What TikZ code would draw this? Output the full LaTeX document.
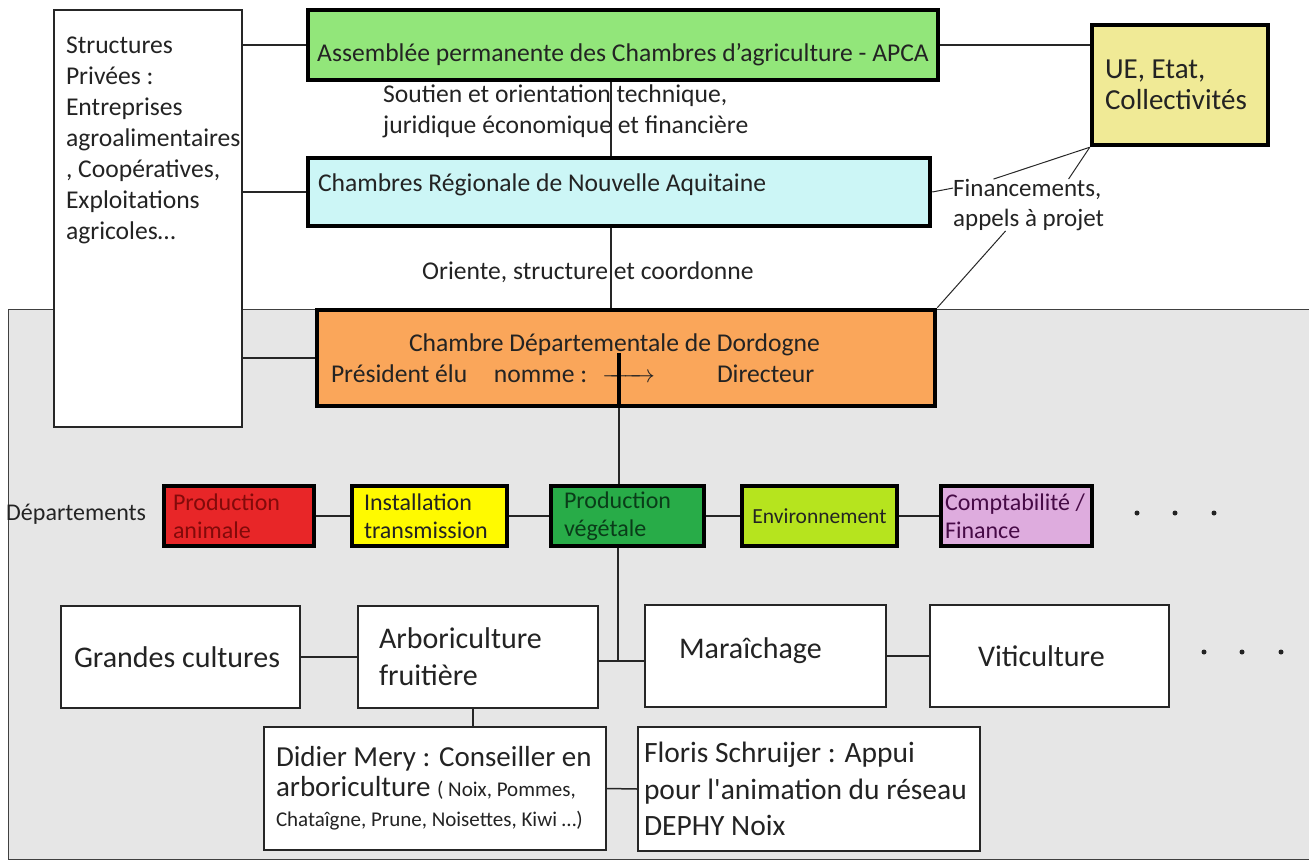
\documentclass[tikz,border=0pt]{standalone}
\usepackage{fontspec}
\setmainfont{Carlito}
\usetikzlibrary{positioning}

\definecolor{apcagreen}{RGB}{146,230,122}
\definecolor{regcyan}{RGB}{204,246,246}
\definecolor{deporange}{RGB}{250,166,90}
\definecolor{ueyellow}{RGB}{240,234,150}
\definecolor{panelgray}{RGB}{230,230,230}
\definecolor{animred}{RGB}{232,38,40}
\definecolor{instyellow}{RGB}{255,250,0}
\definecolor{vegegreen}{RGB}{40,172,72}
\definecolor{envilime}{RGB}{182,228,30}
\definecolor{comptapink}{RGB}{222,172,222}
\definecolor{txtgray}{RGB}{35,35,35}
\definecolor{animtext}{RGB}{130,10,10}
\definecolor{vegetext}{RGB}{10,60,25}
\definecolor{comptatext}{RGB}{70,10,70}

\tikzset{
	block/.style={
		rectangle,
		draw=black,
		line width=4.5pt,
		inner ysep=0pt,
		align=flush left,
		text=txtgray
	},
	whitebox/.style={
		rectangle,
		draw=black!85,
		fill=white,
		line width=1.5pt,
		inner ysep=0pt,
		align=flush left,
		text=txtgray
	},
	note/.style={
		inner sep=0pt,
		align=flush left,
		text=txtgray
	},
	link/.style={black!85, line width=1.5pt},
	fine/.style={black!85, line width=1pt},
	txtmain/.style={font=\fontsize{25.6}{31}\selectfont},
	txtrow/.style={font=\fontsize{24}{28}\selectfont},
	txtbig/.style={font=\fontsize{30}{37}\selectfont}
}

\begin{document}
\begin{tikzpicture}[x=1pt, y=-1pt]
	\useasboundingbox (0,0) rectangle (1309,862);
	\draw[black!75, fill=panelgray, line width=1pt] (8,309) rectangle (1320,859);

	% top part
	\node[whitebox, txtmain, minimum width=188pt, minimum height=417pt, inner xsep=12pt] (priv) at (148,218.5) {\parbox[c][363pt][t]{164pt}{\raggedright Structures\\Privées :\\Entreprises\\\mbox{agroalimentaires}\\, Coopératives,\\Exploitations\\agricoles…}};
	\node[block, txtmain, fill=apcagreen, minimum width=630pt, minimum height=70pt, inner xsep=0pt, align=center, text height=37pt, text depth=5pt] (apca) at (623,45) {Assemblée permanente des Chambres d’agriculture - APCA};
	\node[note, txtmain, anchor=west] (soutien) at (383,111.5) {Soutien et orientation technique,\\juridique économique et financière};
	\node[block, txtmain, fill=regcyan, minimum width=622pt, minimum height=68pt, inner xsep=10pt, text width=602pt, text height=18pt, text depth=20pt] (reg) at (619,192) {Chambres Régionale de Nouvelle Aquitaine};
	\node[note, txtmain, anchor=west] (oriente) at (422,272) {Oriente, structure et coordonne};
	\node[block, txtmain, fill=deporange, minimum width=618pt, minimum height=96pt, inner xsep=14pt, text width=590pt] (dep) at (626,358) {\hspace*{78pt}Chambre Départementale de Dordogne\\\makebox[0pt][l]{Président élu}\hspace*{163pt}\makebox[0pt][l]{nomme :}\hspace*{108pt}\makebox[53pt]{\rightarrowfill}\hspace*{62pt}Directeur};
	\node[block, fill=ueyellow, minimum width=176pt, minimum height=120pt, inner xsep=13pt, text width=150pt, font=\fontsize{29}{31}\selectfont] (ue) at (1180,85) {UE, Etat,\\Collectivités};
	\node[note, anchor=west, font=\fontsize{25}{30}\selectfont] (fin) at (953,205) {Financements,\\appels à projet};

	\draw[link] (priv.east |- apca.west) -- (apca.west);
	\draw[link] (priv.east |- reg.west) -- (reg.west);
	\draw[link] (priv.east |- dep.west) -- (dep.west);
	\draw[link] (apca.east) -- (ue.west |- apca.east);
	\coordinate (spine) at (611,0);
	\draw[link] (spine |- apca.south) -- (spine |- reg.north);
	\draw[link] (spine |- reg.south) -- (spine |- dep.north);
	\draw[fine] (reg.east) -- ([yshift=-9pt]fin.north west);
	\draw[fine] ([xshift=-35pt]fin.north) -- (ue.south west);
	\draw[fine] ([xshift=40pt]fin.north) -- (ue.south west);
	\draw[fine] ([xshift=-23pt]fin.south) -- (dep.north east);

	% departements
	\node[note, txtrow, anchor=west] (deplabel) at (6,514) {Départements};
	\node[block, txtrow, fill=animred, text=animtext, minimum height=60pt, inner xsep=9pt, text width=132pt] (anim) at (239,516) {Production\\animale};
	\node[block, txtrow, fill=instyellow, minimum height=60pt, inner xsep=12pt, text width=131pt] (inst) at (429.5,516) {Installation\\transmission};
	\node[block, txtrow, fill=vegegreen, text=vegetext, minimum height=60pt, inner xsep=13pt, text width=127pt] (vege) at (627.5,516) {Production\\végétale};
	\node[block, fill=envilime, minimum width=155pt, minimum height=60pt, inner xsep=0pt, align=center, font=\fontsize{21.5}{26}\selectfont] (envi) at (819.5,516) {Environnement};
	\node[block, txtrow, fill=comptapink, text=comptatext, minimum height=60pt, inner xsep=4pt, text width=143pt] (compta) at (1016.5,516) {Comptabilité /\\Finance};
	\foreach \x in {1137,1175,1214}
		\fill[txtgray] (\x,513) circle (2.5pt);

	\coordinate (split) at (619,353);
	\draw[line width=4pt] (split) -- (split |- dep.south);
	\draw[link] (split |- dep.south) -- (split |- vege.north);
	\foreach \a/\b in {anim/inst, inst/vege, vege/envi, envi/compta}
		\draw[link] (\a.east) -- (\b.west);

	% filieres
	\node[whitebox, txtbig, minimum width=239pt, minimum height=102pt, inner xsep=13pt, text width=213pt] (gc) at (180.5,657) {Grandes cultures};
	\node[whitebox, txtbig, minimum width=240pt, minimum height=102pt, inner xsep=21pt, text width=198pt] (arbo) at (478,657) {Arboriculture\\fruitière};
	\node[whitebox, txtbig, minimum width=241pt, minimum height=102pt, inner xsep=34pt, text width=173pt, text height=22pt, text depth=18pt] (mara) at (765.5,656) {Maraîchage};
	\node[whitebox, txtbig, minimum width=239pt, minimum height=102pt, inner xsep=48pt, text width=143pt] (viti) at (1049.5,656) {Viticulture};
	\foreach \x in {1204,1242,1281}
		\fill[txtgray] (\x,652) circle (2.5pt);
	\node[whitebox, minimum width=342pt, minimum height=123pt, inner xsep=12pt, text width=318pt, font=\fontsize{29}{30}\selectfont] (didier) at (435,788.5) {Didier Mery : Conseiller en\\arboriculture {\fontsize{21}{30}\selectfont( Noix, Pommes,}\\{\fontsize{21}{30}\selectfont Chataîgne, Prune, Noisettes, Kiwi …)}};
	\node[whitebox, minimum width=342pt, minimum height=124pt, inner xsep=6pt, text width=330pt, font=\fontsize{29.5}{36.5}\selectfont] (floris) at (809,789) {Floris Schruijer : Appui\\pour l\textquotesingle animation du réseau\\DEPHY Noix};

	\coordinate (fork) at (618,661);
	\draw[link] (fork |- vege.south) -- (fork);
	\draw[link] (arbo.east |- fork) -- (mara.west |- fork);
	\draw[link] (gc.east) -- (arbo.west);
	\draw[link] (mara.east) -- (viti.west);
	\draw[link] ([xshift=-5pt]arbo.south) -- ([xshift=-5pt]arbo.south |- didier.north);
	\draw[link] (didier.east) -- (floris.west);
\end{tikzpicture}
\end{document}
